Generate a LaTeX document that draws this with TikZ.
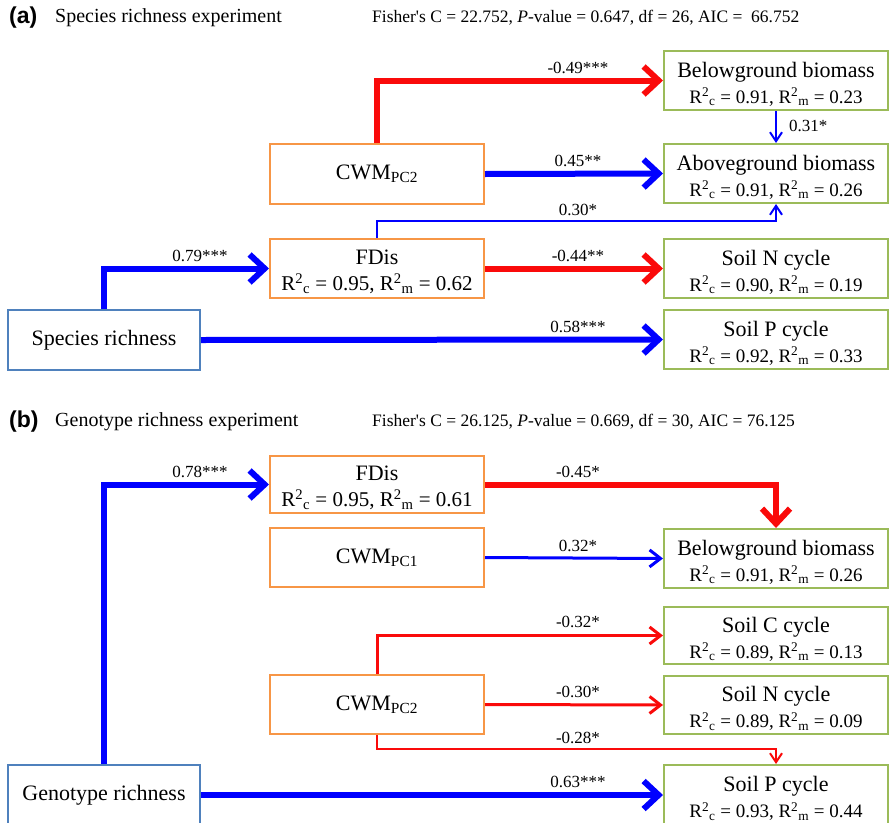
\documentclass[tikz,border=0pt]{standalone}
\usepackage{fontspec}
\setmainfont{Liberation Serif}
\newfontfamily\arialfont{Liberation Sans}
\usetikzlibrary{arrows.meta}
\definecolor{arrblue}{RGB}{0,0,255}
\definecolor{arrred}{RGB}{250,10,10}
\definecolor{boxorange}{RGB}{247,150,70}
\definecolor{boxgreen}{RGB}{155,187,89}
\definecolor{boxblue}{RGB}{79,129,189}
\newcommand{\Rsq}[2]{R\textsuperscript{2}\textsubscript{#1} = #2}
\newcommand{\sline}[1]{{\fontsize{19}{22}\selectfont #1}}
\newcommand{\fline}[1]{{\fontsize{21}{22}\selectfont #1}}
\newcommand{\tstrut}{\rule{0pt}{22pt}}
\begin{document}
\begin{tikzpicture}[x=1pt,y=-1pt,
  base/.style={draw, line width=2pt, inner sep=0pt, align=center, font=\fontsize{22}{26}\selectfont},
  resp/.style={base, draw=boxgreen, minimum width=224pt, minimum height=59pt},
  med/.style={base, draw=boxorange, minimum width=214pt, minimum height=60pt},
  pred/.style={base, draw=boxblue, minimum width=192pt, minimum height=60pt},
  wide/.style={line width=6pt, -{Straight Barb[length=15pt,width=28pt]}},
  mid/.style={line width=3pt, -{Straight Barb[length=11pt,width=17pt]}},
  slim/.style={line width=2pt, -{Straight Barb[length=9pt,width=12pt]}},
  lab/.style={font=\fontsize{17}{19}\selectfont, anchor=south, inner sep=0pt, text=black},
  head/.style={font=\fontsize{17.5}{20}\selectfont, anchor=west, inner sep=0pt},
  ttl/.style={font=\fontsize{20}{22}\selectfont, anchor=west, inner sep=0pt},
  tag/.style={font={\fontsize{23}{25}\arialfont\bfseries}, anchor=west, inner sep=0pt}
]
\path[use as bounding box, fill=white] (0,0) rectangle (894,822);
\clip (0,0) rectangle (894,822);

% ---------- panel (a) ----------
\node[tag] (ta) at (9,18) {(a)};
\node[ttl] (tta) at (55,18) {Species richness experiment};
\node[head] (fa) at (372,18) {Fisher\textquotesingle s C = 22.752, \textit{P}-value = 0.647, df = 26, AIC =\ \ 66.752};

\node[resp] (bgA) at (776,80.5) {\tstrut Belowground biomass\\\sline{\Rsq{c}{0.91}, \Rsq{m}{0.23}}};
\node[resp] (agA) at (776,173.5) {\tstrut Aboveground biomass\\\sline{\Rsq{c}{0.91}, \Rsq{m}{0.26}}};
\node[resp] (snA) at (776,268.5) {\tstrut Soil N cycle\\\sline{\Rsq{c}{0.90}, \Rsq{m}{0.19}}};
\node[resp] (spA) at (776,339.5) {\tstrut Soil P cycle\\\sline{\Rsq{c}{0.92}, \Rsq{m}{0.33}}};
\node[med] (cwmA) at (377,174) {CWM\textsubscript{PC2}};
\node[med, minimum height=59pt] (fdA) at (377,268.5) {\tstrut FDis\\\fline{\Rsq{c}{0.95}, \Rsq{m}{0.62}}};
\node[pred] (srA) at (104,340) {Species richness};

\coordinate (kA) at (776,221);
\draw[wide, arrred] (cwmA.north) |- (bgA.west);
\draw[slim, arrblue] (bgA.south) -- (agA.north);
\draw[wide, arrblue] (cwmA.east) -- (agA.west);
\draw[slim, arrblue] (fdA.north) |- (kA) -- (agA.south);
\draw[wide, arrblue] (srA.north) |- (fdA.west);
\draw[wide, arrred] (fdA.east) -- (snA.west);
\draw[wide, arrblue] (srA.east) -- (spA.west);

\node[lab] (l1) at (578,74) {-0.49***};
\node[lab, anchor=west] (l2) at (789,126) {0.31*};
\node[lab] (l3) at (578,166.5) {0.45**};
\node[lab] (l4) at (578,216) {0.30*};
\node[lab] (l5) at (200,261.5) {0.79***};
\node[lab] (l6) at (578,261.5) {-0.44**};
\node[lab] (l7) at (578,332.5) {0.58***};

% ---------- panel (b) ----------
\node[tag] (tb) at (9,422) {(b)};
\node[ttl] (ttb) at (55,422) {Genotype richness experiment};
\node[head] (fb) at (372,422) {Fisher\textquotesingle s C = 26.125, \textit{P}-value = 0.669, df = 30, AIC = 76.125};

\node[med, minimum height=57pt] (fdB) at (377,484.5) {\tstrut FDis\\\fline{\Rsq{c}{0.95}, \Rsq{m}{0.61}}};
\node[med, minimum height=59pt] (cwm1B) at (377,557.5) {CWM\textsubscript{PC1}};
\node[med, minimum height=59pt] (cwm2B) at (377,704.5) {CWM\textsubscript{PC2}};
\node[resp] (bgB) at (776,558.5) {\tstrut Belowground biomass\\\sline{\Rsq{c}{0.91}, \Rsq{m}{0.26}}};
\node[resp, minimum height=57pt] (scB) at (776,635.5) {\tstrut Soil C cycle\\\sline{\Rsq{c}{0.89}, \Rsq{m}{0.13}}};
\node[resp, minimum height=58pt] (snB) at (776,705) {\tstrut Soil N cycle\\\sline{\Rsq{c}{0.89}, \Rsq{m}{0.09}}};
\node[resp, minimum height=60pt] (spB) at (776,795) {\tstrut Soil P cycle\\\sline{\Rsq{c}{0.93}, \Rsq{m}{0.44}}};
\node[pred] (grB) at (104,795) {Genotype richness};

\coordinate (kB) at (776,749);
\draw[wide, arrblue] (grB.north) |- (fdB.west);
\draw[wide, arrred] (fdB.east) -| (bgB.north);
\draw[mid, arrblue] (cwm1B.east) -- (bgB.west);
\draw[mid, arrred] (cwm2B.north) |- (scB.west);
\draw[mid, arrred] (cwm2B.east) -- (snB.west);
\draw[slim, arrred] (cwm2B.south) |- (kB) -- (spB.north);
\draw[wide, arrblue] (grB.east) -- (spB.west);

\node[lab] (m1) at (200,477.5) {0.78***};
\node[lab] (m2) at (578,477.5) {-0.45*};
\node[lab] (m3) at (578,552) {0.32*};
\node[lab] (m4) at (578,628) {-0.32*};
\node[lab] (m5) at (578,698) {-0.30*};
\node[lab] (m6) at (578,744) {-0.28*};
\node[lab] (m7) at (578,788) {0.63***};
\end{tikzpicture}
\end{document}
